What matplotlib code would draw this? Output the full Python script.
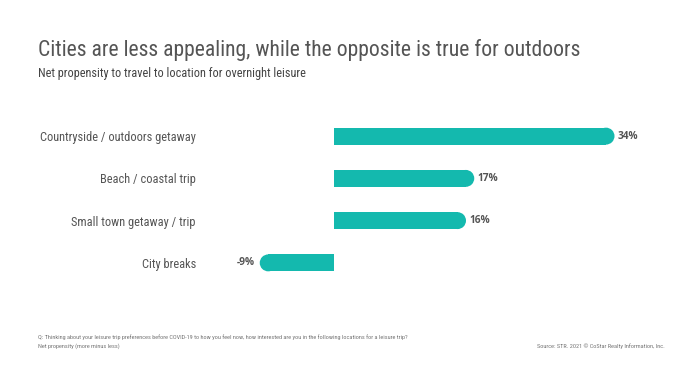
import numpy as np
import matplotlib
matplotlib.use("Agg")
import matplotlib.pyplot as plt
from matplotlib.patches import Ellipse
from matplotlib import font_manager

# Data
categories = ['Countryside / outdoors getaway', 'Beach / coastal trip',
              'Small town getaway / trip', 'City breaks']
values = [34, 17, 16, -9]
value_labels = ['34%', '17%', '16%', '-9%']

names = {f.name for f in font_manager.fontManager.ttflist}
narrow = 'DejaVu Sans'
for cand in ['Roboto Condensed', 'Archivo Narrow', 'IBM Plex Sans Condensed',
             'PT Sans Narrow', 'Open Sans Condensed']:
    if cand in names:
        narrow = cand
        break

teal = '#14b9ae'
grey = '#555555'

fig = plt.figure(figsize=(7.0, 3.67), dpi=100)
W, H = 700, 367
# axes: zero at x=334px, ~8.25 px per %
x0, x1 = -12, 40
px_per_x = 8.25
left_px = 334 + x0 * px_per_x
right_px = 334 + x1 * px_per_x
top_px, bot_px = 115, 284
ax = fig.add_axes([left_px / W, 1 - bot_px / H, (right_px - left_px) / W, (bot_px - top_px) / H])
ax.set_xlim(x0, x1)
ax.set_ylim(len(categories) - 0.5, -0.5)

ypos = np.arange(len(categories))
bh = 0.4
px_per_y = (bot_px - top_px) / len(categories)
rx = (bh * px_per_y / 2) / px_per_x   # cap radius in x data units

# bar body, shortened by the cap radius, plus a round cap at the far end
body = [v - np.sign(v) * rx for v in values]
ax.barh(ypos, body, height=bh, color=teal, linewidth=0)
for yy, v, b in zip(ypos, values, body):
    ax.add_patch(Ellipse((b, yy), 2 * rx, bh, facecolor=teal, edgecolor='none'))

for yy, v, lab in zip(ypos, values, value_labels):
    if v >= 0:
        ax.text(v + 0.4, yy, lab, ha='left', va='center', fontsize=7.3,
                fontweight='bold', color=grey, family='Open Sans')
    else:
        ax.text(v - 0.6, yy, lab, ha='right', va='center', fontsize=7.3,
                fontweight='bold', color=grey, family='Open Sans')

ax.set_yticks(ypos)
ax.set_yticklabels(categories, fontsize=8.9, color=grey, family=narrow)
ax.tick_params(axis='y', length=0, pad=(left_px - 196) * 0.72)
ax.set_xticks([])
for s in ax.spines.values():
    s.set_visible(False)

fig.text(38 / W, 1 - 50 / H, 'Cities are less appealing, while the opposite is true for outdoors',
         fontsize=15.6, color=grey, family=narrow, va='center', ha='left')
fig.text(38 / W, 1 - 73 / H, 'Net propensity to travel to location for overnight leisure',
         fontsize=8.8, color='#444444', family=narrow, va='center', ha='left')
fig.text(38 / W, 1 - 337 / H, 'Q: Thinking about your leisure trip preferences before COVID-19 to how you feel now, '
         'how interested are you in the following locations for a leisure trip?',
         fontsize=4.5, color='#777777', family=narrow, va='center', ha='left')
fig.text(38 / W, 1 - 346 / H, 'Net propensity (more minus less)',
         fontsize=4.5, color='#777777', family=narrow, va='center', ha='left')
fig.text(665 / W, 1 - 346 / H, 'Source: STR. 2021 \u00a9 CoStar Realty Information, Inc.',
         fontsize=4.5, color='#777777', family=narrow, va='center', ha='right')

fig.savefig('out.png', dpi=100, facecolor='white')
